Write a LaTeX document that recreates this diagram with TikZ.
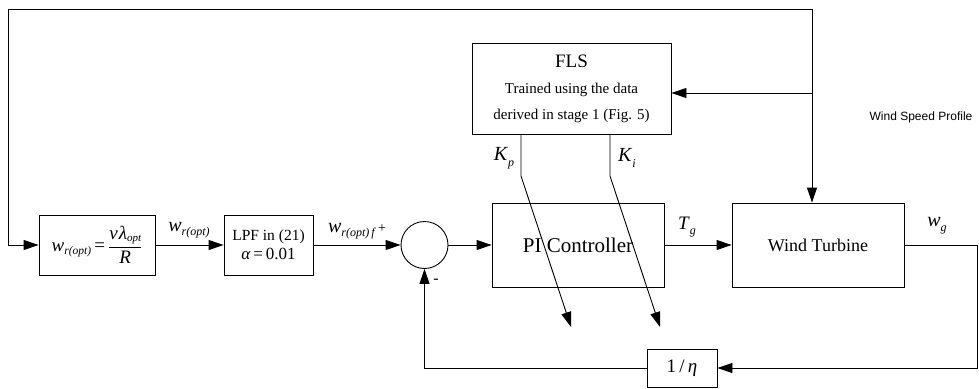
\documentclass[tikz,border=0pt]{standalone}
\usepackage{fontspec}
\setmainfont{Liberation Serif}
\newfontfamily\labelsans{Liberation Sans}
\usetikzlibrary{arrows.meta,calc}
\newcommand{\fsz}[1]{\fontsize{#1}{#1}\selectfont}
% italic symbol with a lowered italic index: {symbol}{index}{index size}{drop}
\newcommand{\vs}[4]{\textit{#1}\raisebox{-#4}{\fsz{#3}\itshape #2}}

\begin{document}
\begin{tikzpicture}[x=1pt,y=-1pt,
  line width=0.9pt,
  blk/.style={draw, rectangle, inner sep=0pt, align=center},
  arr/.style={-{Triangle[length=15pt,width=10pt]}},
  lbl/.style={inner sep=0pt},
]
\useasboundingbox (0,0) rectangle (979,388);

% blocks
\node[blk, minimum width=116pt, minimum height=60pt, font=\fsz{19}] (opt) at (97,245)
  {\vs{w}{r(opt)}{11.5}{3pt}\,=\,$\displaystyle\frac{\mbox{\itshape v\kern1pt λ\raisebox{-2pt}{\fsz{11}opt}}}{\mbox{\itshape R}}$};
\node[blk, minimum width=89pt, minimum height=60pt, font=\fontsize{15.5}{19}\selectfont] (lpf) at (268.5,245)
  {LPF in (21)\\{\fsz{17}\textit{α}\,=\,0.01}};
\node[draw, circle, minimum size=47pt, inner sep=0pt] (sum) at (424.5,245) {};
\node[blk, minimum width=172pt, minimum height=84pt, font=\fsz{21}] (pi) at (578,245) {PI Controller};
\node[blk, minimum width=172pt, minimum height=84pt, font=\fsz{18}] (wt) at (818,245) {Wind Turbine};
\node[blk, minimum width=199pt, minimum height=91pt, font=\fontsize{15}{26}\selectfont] (fls) at (571.5,88.5)
  {{\fontsize{19}{26}\selectfont FLS}\\Trained using the data\\derived in stage 1 (Fig. 5)};
\node[blk, minimum width=70pt, minimum height=38pt, font=\fsz{19}] (eta) at (682,368) {1\,/\,\textit{η}};

% routing points
\coordinate (top) at (812,9);
\coordinate (tl) at (8,9);
\coordinate (ws) at (812,93);
\coordinate (rb) at (977,245);
\coordinate (rc) at (977,368);
\coordinate (lc) at (424.5,368);
\coordinate (kp0) at (521,176);
\coordinate (kp1) at (571,327);
\coordinate (ki0) at (610,176);
\coordinate (ki1) at (660,327);

% connectors
\draw[arr] (top) -- (tl) -- (tl |- opt.west) -- (opt.west);
\draw[arr] (top) -- (top |- wt.north);
\draw[arr] (ws) -- (ws -| fls.east);
\draw[arr] (opt.east) -- (lpf.west);
\draw[arr] (lpf.east) -- (sum.west);
\draw[arr] (sum.east) -- (pi.west);
\draw[arr] (pi.east) -- (wt.west);
\draw[arr] (wt.east) -- (rb) -- (rc) -- (eta.east);
\draw[arr] (eta.west) -- (lc) -- (sum.south);
\draw[arr] (kp0 |- fls.south) -- (kp0) -- (kp1);
\draw[arr] (ki0 |- fls.south) -- (ki0) -- (ki1);

% signal labels
\node[lbl, font=\fsz{20}] (lw1) at (189,230) {\vs{w}{r(opt)}{12}{4pt}};
\node[lbl, font=\fsz{20}] (lw2) at (357,231) {\vs{w}{r(opt)\,f}{12}{4pt}\,{\fsz{14}+}};
\node[lbl, font=\fsz{16}] (lminus) at (436,281) {-};
\node[lbl, font=\fsz{19}] (ltg) at (687,227) {\vs{T}{g}{12}{5pt}};
\node[lbl, font=\fsz{20}] (lwg) at (937,226) {\vs{w}{g}{12}{5pt}};
\node[lbl, font=\fsz{20}] (lkp) at (504,158) {\vs{K}{p}{12}{6pt}};
\node[lbl, font=\fsz{20}] (lki) at (627,158) {\vs{K}{i}{12}{6pt}};
\node[lbl, font=\labelsans\fsz{12}] (lwsp) at (921,117) {Wind Speed Profile};
\end{tikzpicture}
\end{document}
